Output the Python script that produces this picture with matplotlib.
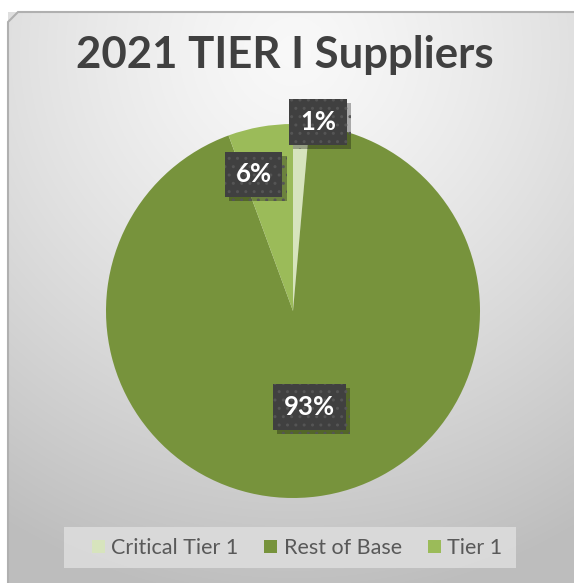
import numpy as np
import matplotlib.pyplot as plt
import matplotlib.patheffects as pe
from matplotlib.patches import Rectangle, Polygon

labels = ['Critical Tier 1', 'Rest of Base', 'Tier 1']
values = [1.4, 93.0, 5.6]
colors = ['#D7E4BD', '#77933C', '#9BBB59']
title = '2021 TIER I Suppliers'

plt.rcParams['font.family'] = ['Lato', 'DejaVu Sans']

W, H = 574, 583
fig = plt.figure(figsize=(W / 100, H / 100), dpi=100)

# background panel with radial gradient
bg = fig.add_axes([0, 0, 1, 1])
bg.set_xlim(0, W)
bg.set_ylim(H, 0)
bg.axis('off')
yy, xx = np.mgrid[0:H, 0:W]
d = np.sqrt((xx - 290) ** 2 + (yy - 40) ** 2)
t = np.clip(d / 560, 0, 1)
g = 0.975 - 0.23 * t ** 1.3
img = np.dstack([g, g, g])
bg.imshow(img, extent=(8, W, H, 12), zorder=0, aspect='auto')
bg.add_patch(Polygon([[8, H], [8, 22], [18, 12], [W, 12]], closed=False,
                     fill=False, edgecolor='#b0b0b0', lw=1.5, zorder=1))
# legend box
bg.add_patch(Rectangle((64, 527), 452, 41, facecolor='#dcdcdc', edgecolor='none',
                       alpha=0.9, zorder=1))

bg.text(285, 55, title, ha='center', va='center', fontsize=31.5, fontweight='bold',
        color='#404040')

# pie
cx, cy, r = 293, 311, 187
ax = fig.add_axes([(cx - r) / W, (H - cy - r) / H, 2 * r / W, 2 * r / H])
wedges, _ = ax.pie(values, colors=colors, startangle=90, counterclock=False,
                   radius=1, wedgeprops=dict(linewidth=0))
ax.set_xlim(-1, 1)
ax.set_ylim(-1, 1)
ax.axis('off')

label_r = [1.02, 0.52, 0.76]
label_shift = [-5, 2, 6]
for w, v, lr, sh in zip(wedges, values, label_r, label_shift):
    ang = np.deg2rad((w.theta1 + w.theta2) / 2 + sh)
    x, y = lr * np.cos(ang), lr * np.sin(ang)
    txt = ax.text(x, y, f'{round(v):d}%', ha='center', va='center', fontsize=18.5,
                  fontweight='bold', color='white', zorder=5,
                  bbox=dict(boxstyle='square,pad=0.42', facecolor='#404040',
                            edgecolor='#555555', linewidth=0, hatch='..'))
    txt.get_bbox_patch().set_path_effects(
        [pe.SimplePatchShadow(offset=(3, -3), shadow_rgbFace='black', alpha=0.3),
         pe.Normal()])

handles = [Rectangle((0, 0), 1, 1, facecolor=c) for c in colors]
fig.legend(handles, labels, loc='center', bbox_to_anchor=(297 / W, 1 - 548 / H),
           ncol=3, frameon=False, fontsize=15.5, handlelength=0.6,
           handleheight=0.6, handletextpad=0.3, columnspacing=1.2,
           labelcolor='#595959')

fig.savefig('out.png', dpi=100)
